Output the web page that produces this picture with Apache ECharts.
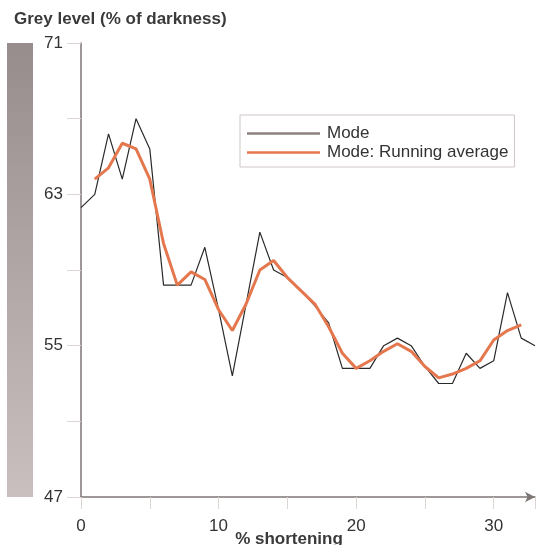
<!DOCTYPE html>
<html>
<head>
<meta charset="utf-8">
<script src="https://cdn.jsdelivr.net/npm/echarts@6/dist/echarts.min.js"></script>
<style>
  html, body { margin: 0; padding: 0; background: #fff; }
  #main { width: 536px; height: 545px; }
</style>
</head>
<body>
<div id="main"></div>
<script>
// % shortening
var shortening = [0, 1, 2, 3, 4, 5, 6, 7, 8, 9, 10, 11, 12, 13, 14, 15, 16,
  17, 18, 19, 20, 21, 22, 23, 24, 25, 26, 27, 28, 29, 30, 31, 32, 33];
// grey level, mode
var modeValues = [62.3, 63.0, 66.2, 63.8, 67.0, 65.4, 58.2, 58.2, 58.2, 60.2,
  56.9, 53.4, 57.2, 61.0, 59.0, 58.6, 57.9, 57.1, 56.2, 53.8, 53.8, 53.8,
  55.0, 55.4, 55.0, 53.9, 53.0, 53.0, 54.6, 53.8, 54.2, 57.8, 55.4, 55.0];
// running average, from x = 1 to 32
var avgStart = 1;
var avgValues = [63.8, 64.4, 65.7, 65.4, 63.8, 60.4, 58.2, 58.9, 58.5, 56.9,
  55.8, 57.2, 59.0, 59.5, 58.6, 57.9, 57.2, 56.0, 54.6, 53.8, 54.2, 54.7,
  55.1, 54.7, 53.9, 53.3, 53.5, 53.8, 54.2, 55.3, 55.8, 56.1];

var yLabels = [47, 55, 63, 71];
var xLabels = [0, 10, 20, 30];

var chart = echarts.init(document.getElementById("main"));

function pairs(xs, ys, start) {
  var out = [];
  for (var i = 0; i < ys.length; i++) {
    out.push([xs[i + start], ys[i]]);
  }
  return out;
}

var font = "Liberation Sans, Arial, sans-serif";

option = {
  animation: false,
  title: {
    text: "Grey level (% of darkness)",
    left: 9,
    top: 6,
    textStyle: { fontFamily: font, fontSize: 17, fontWeight: "bold", color: "#3a3a3a" }
  },
  graphic: [{
    type: "rect",
    shape: { x: 7, y: 43, width: 26, height: 454 },
    style: {
      fill: new echarts.graphic.LinearGradient(0, 0, 0, 1, [
        { offset: 0, color: "#968d8c" },
        { offset: 1, color: "#c8bfbe" }
      ])
    }
  }],
  legend: {
    orient: "vertical",
    left: 240,
    top: 115,
    padding: [9, 6, 5, 7],
    borderColor: "#cfc7c6",
    borderWidth: 1,
    icon: "rect",
    itemWidth: 73,
    itemHeight: 2.5,
    itemGap: 0,
    textStyle: { fontFamily: font, fontSize: 17, color: "#333", lineHeight: 19, padding: [0, 0, 0, 2] },
    data: [
      { name: "Mode", itemStyle: { color: "#8c8280" } },
      { name: "Mode: Running average", itemStyle: { color: "#e4774e" } }
    ]
  },
  grid: { left: 81, right: 1, top: 43, bottom: 48, outerBoundsMode: "none", containLabel: false },
  xAxis: {
    type: "value",
    min: 0,
    max: 33,
    interval: 5,
    name: "% shortening",
    nameLocation: "middle",
    nameGap: 34,
    nameMoveOverlap: false,
    nameTextStyle: { fontFamily: font, fontSize: 17, fontWeight: "bold", color: "#3a3a3a", padding: [0, 38, 0, 0] },
    splitLine: { show: false },
    axisLine: {
      onZero: false,
      symbol: ["none", "arrow"],
      symbolSize: [8, 10],
      lineStyle: { color: "#7d7675", width: 1.5 }
    },
    axisTick: { length: 12, lineStyle: { color: "#ddd5d4" } },
    axisLabel: {
      margin: 21,
      fontFamily: font,
      fontSize: 17,
      color: "#333",
      formatter: function (v) { return xLabels.indexOf(v) >= 0 ? v : ""; }
    }
  },
  yAxis: {
    type: "value",
    min: 47,
    max: 71,
    interval: 4,
    splitLine: { show: false },
    axisLine: { show: true, lineStyle: { color: "#7d7675", width: 1.5 } },
    axisTick: { show: true, length: 14, lineStyle: { color: "#ddd5d4" } },
    axisLabel: {
      margin: 18,
      fontFamily: font,
      fontSize: 17,
      color: "#333",
      formatter: function (v) { return yLabels.indexOf(v) >= 0 ? v : ""; }
    }
  },
  series: [
    {
      name: "Mode",
      type: "line",
      data: pairs(shortening, modeValues, 0),
      showSymbol: false,
      symbol: "none",
      lineStyle: { color: "#2a2a2a", width: 1.2 },
      itemStyle: { color: "#8c8280" }
    },
    {
      name: "Mode: Running average",
      type: "line",
      data: pairs(shortening, avgValues, avgStart),
      showSymbol: false,
      symbol: "none",
      lineStyle: { color: "#e4774e", width: 3 },
      itemStyle: { color: "#e4774e" }
    }
  ]
};

chart.setOption(option);
</script>
</body>
</html>
